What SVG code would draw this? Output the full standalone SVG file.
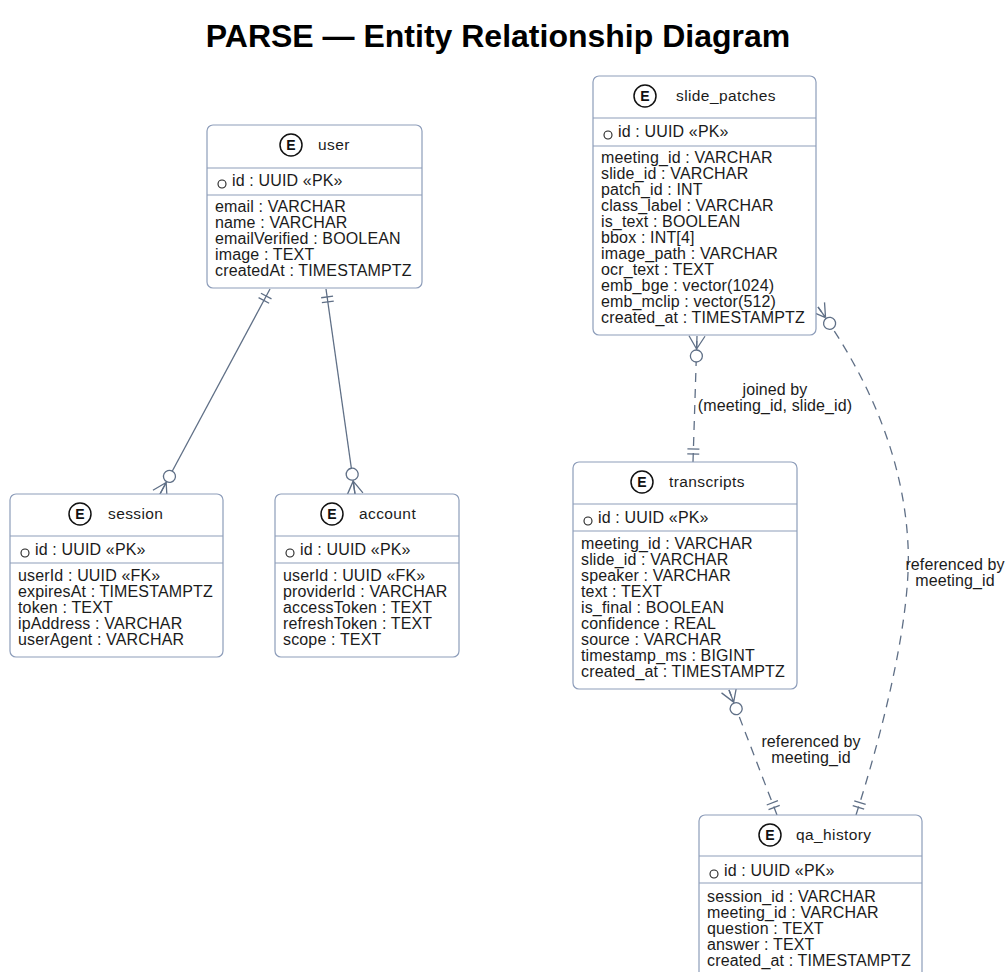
<svg xmlns="http://www.w3.org/2000/svg" width="1007" height="972" viewBox="0 0 1007 972">
  <style>
    text { font-family: "Liberation Sans", Arial, Helvetica, sans-serif; fill: #1b1b1b; }
    .title { font-size: 32px; font-weight: bold; text-anchor: middle; fill: #000; }
    .box { fill: #fff; stroke: #8d9dba; stroke-width: 1.2; }
    .sep { stroke: #8d9dba; stroke-width: 1.1; }
    .badge { fill: #fff; stroke: #111; stroke-width: 1.5; }
    .badgeL { font-size: 14px; font-weight: bold; text-anchor: middle; fill: #111; }
    .name { font-size: 15.5px; letter-spacing: 0.4px; }
    .f { font-size: 16px; letter-spacing: 0.15px; }
    .key { fill: #fff; stroke: #222; stroke-width: 1.1; }
    .rel { fill: none; stroke: #5f6f86; stroke-width: 1.3; }
    .dash { stroke-dasharray: 9 7; }
    .lbl { font-size: 16px; letter-spacing: 0.1px; text-anchor: middle; }
    .mk { fill: none; stroke: #5f6f86; stroke-width: 1.3; stroke-dasharray: none; }
    .mkc { fill: #fff; stroke: #5f6f86; stroke-width: 1.3; stroke-dasharray: none; }
  </style>
  <defs>
    <!-- zero-or-many: circle + crow's foot, tips on the entity border -->
    <marker id="many" markerUnits="userSpaceOnUse" markerWidth="40" markerHeight="30" refX="0" refY="0" orient="auto" style="overflow:visible">
      <path class="mk" d="M-13,0 L0,-8 M-13,0 L0,8 M-13,0 L0,0"/>
      <circle class="mkc" cx="-20" cy="0" r="6"/>
    </marker>
    <!-- exactly-one: double bar -->
    <marker id="one" markerUnits="userSpaceOnUse" markerWidth="30" markerHeight="30" refX="0" refY="0" orient="auto-start-reverse" style="overflow:visible">
      <path class="mk" d="M-8,-6 L-8,6 M-13,-6 L-13,6"/>
    </marker>
  </defs>

  <rect x="0" y="0" width="1007" height="972" fill="#fff"/>

  <text class="title" x="498" y="47">PARSE — Entity Relationship Diagram</text>

  <!-- relationships -->
  <g id="connectors">
    <path class="rel" d="M270,289 L160,494" marker-start="url(#one)" marker-end="url(#many)"/>
    <path class="rel" d="M326,289 L355,494" marker-start="url(#one)" marker-end="url(#many)"/>
    <path class="rel dash" d="M693,462 L697,336" marker-start="url(#one)" marker-end="url(#many)"/>
    <path class="rel dash" d="M777,815 L729,690" marker-start="url(#one)" marker-end="url(#many)"/>
    <path class="rel dash" d="M856,815 C880,740 912,620 908,545 C904,460 870,380 818,307" marker-start="url(#one)" marker-end="url(#many)"/>
    <text class="lbl" x="775" y="395">joined by</text>
    <text class="lbl" x="775" y="411">(meeting_id, slide_id)</text>
    <text class="lbl" x="811" y="747">referenced by</text>
    <text class="lbl" x="811" y="763">meeting_id</text>
    <text class="lbl" x="955" y="570">referenced by</text>
    <text class="lbl" x="955" y="586">meeting_id</text>
  </g>

  <!-- entities -->
  <g id="user" transform="translate(207,125)">
    <rect class="box" x="0" y="0" width="215" height="163" rx="6"/>
    <line class="sep" x1="0" y1="43" x2="215" y2="43"/>
    <line class="sep" x1="0" y1="70" x2="215" y2="70"/>
    <circle class="badge" cx="84" cy="20" r="11"/>
    <text class="badgeL" x="84" y="25">E</text>
    <text class="name" x="111" y="25">user</text>
    <circle class="key" cx="15" cy="59" r="4"/>
    <text class="f" x="25" y="61">id : UUID «PK»</text>
    <text class="f" x="8" y="87">
      <tspan x="8" dy="0">email : VARCHAR</tspan>
      <tspan x="8" dy="16">name : VARCHAR</tspan>
      <tspan x="8" dy="16">emailVerified : BOOLEAN</tspan>
      <tspan x="8" dy="16">image : TEXT</tspan>
      <tspan x="8" dy="16">createdAt : TIMESTAMPTZ</tspan>
    </text>
  </g>

  <g id="session" transform="translate(10,494)">
    <rect class="box" x="0" y="0" width="213" height="163" rx="6"/>
    <line class="sep" x1="0" y1="42" x2="213" y2="42"/>
    <line class="sep" x1="0" y1="69" x2="213" y2="69"/>
    <circle class="badge" cx="70" cy="20" r="11"/>
    <text class="badgeL" x="70" y="25">E</text>
    <text class="name" x="98" y="25">session</text>
    <circle class="key" cx="15" cy="59" r="4"/>
    <text class="f" x="25" y="61">id : UUID «PK»</text>
    <text class="f" x="8" y="87">
      <tspan x="8" dy="0">userId : UUID «FK»</tspan>
      <tspan x="8" dy="16">expiresAt : TIMESTAMPTZ</tspan>
      <tspan x="8" dy="16">token : TEXT</tspan>
      <tspan x="8" dy="16">ipAddress : VARCHAR</tspan>
      <tspan x="8" dy="16">userAgent : VARCHAR</tspan>
    </text>
  </g>

  <g id="account" transform="translate(275,494)">
    <rect class="box" x="0" y="0" width="184" height="163" rx="6"/>
    <line class="sep" x1="0" y1="42" x2="184" y2="42"/>
    <line class="sep" x1="0" y1="69" x2="184" y2="69"/>
    <circle class="badge" cx="57" cy="20" r="11"/>
    <text class="badgeL" x="57" y="25">E</text>
    <text class="name" x="84" y="25">account</text>
    <circle class="key" cx="15" cy="59" r="4"/>
    <text class="f" x="25" y="61">id : UUID «PK»</text>
    <text class="f" x="8" y="87">
      <tspan x="8" dy="0">userId : UUID «FK»</tspan>
      <tspan x="8" dy="16">providerId : VARCHAR</tspan>
      <tspan x="8" dy="16">accessToken : TEXT</tspan>
      <tspan x="8" dy="16">refreshToken : TEXT</tspan>
      <tspan x="8" dy="16">scope : TEXT</tspan>
    </text>
  </g>

  <g id="slide_patches" transform="translate(593,76)">
    <rect class="box" x="0" y="0" width="223" height="259" rx="6"/>
    <line class="sep" x1="0" y1="42" x2="223" y2="42"/>
    <line class="sep" x1="0" y1="70" x2="223" y2="70"/>
    <circle class="badge" cx="52" cy="20" r="11"/>
    <text class="badgeL" x="52" y="25">E</text>
    <text class="name" x="83" y="25">slide_patches</text>
    <circle class="key" cx="15" cy="59" r="4"/>
    <text class="f" x="25" y="61">id : UUID «PK»</text>
    <text class="f" x="8" y="87">
      <tspan x="8" dy="0">meeting_id : VARCHAR</tspan>
      <tspan x="8" dy="16">slide_id : VARCHAR</tspan>
      <tspan x="8" dy="16">patch_id : INT</tspan>
      <tspan x="8" dy="16">class_label : VARCHAR</tspan>
      <tspan x="8" dy="16">is_text : BOOLEAN</tspan>
      <tspan x="8" dy="16">bbox : INT[4]</tspan>
      <tspan x="8" dy="16">image_path : VARCHAR</tspan>
      <tspan x="8" dy="16">ocr_text : TEXT</tspan>
      <tspan x="8" dy="16">emb_bge : vector(1024)</tspan>
      <tspan x="8" dy="16">emb_mclip : vector(512)</tspan>
      <tspan x="8" dy="16">created_at : TIMESTAMPTZ</tspan>
    </text>
  </g>

  <g id="transcripts" transform="translate(573,462)">
    <rect class="box" x="0" y="0" width="224" height="227" rx="6"/>
    <line class="sep" x1="0" y1="42" x2="224" y2="42"/>
    <line class="sep" x1="0" y1="69" x2="224" y2="69"/>
    <circle class="badge" cx="69" cy="20" r="11"/>
    <text class="badgeL" x="69" y="25">E</text>
    <text class="name" x="96" y="25">transcripts</text>
    <circle class="key" cx="15" cy="59" r="4"/>
    <text class="f" x="25" y="61">id : UUID «PK»</text>
    <text class="f" x="8" y="87">
      <tspan x="8" dy="0">meeting_id : VARCHAR</tspan>
      <tspan x="8" dy="16">slide_id : VARCHAR</tspan>
      <tspan x="8" dy="16">speaker : VARCHAR</tspan>
      <tspan x="8" dy="16">text : TEXT</tspan>
      <tspan x="8" dy="16">is_final : BOOLEAN</tspan>
      <tspan x="8" dy="16">confidence : REAL</tspan>
      <tspan x="8" dy="16">source : VARCHAR</tspan>
      <tspan x="8" dy="16">timestamp_ms : BIGINT</tspan>
      <tspan x="8" dy="16">created_at : TIMESTAMPTZ</tspan>
    </text>
  </g>

  <g id="qa_history" transform="translate(699,815)">
    <rect class="box" x="0" y="0" width="223" height="163" rx="6"/>
    <line class="sep" x1="0" y1="41" x2="223" y2="41"/>
    <line class="sep" x1="0" y1="68" x2="223" y2="68"/>
    <circle class="badge" cx="71" cy="20" r="11"/>
    <text class="badgeL" x="71" y="25">E</text>
    <text class="name" x="97" y="25">qa_history</text>
    <circle class="key" cx="15" cy="59" r="4"/>
    <text class="f" x="25" y="61">id : UUID «PK»</text>
    <text class="f" x="8" y="87">
      <tspan x="8" dy="0">session_id : VARCHAR</tspan>
      <tspan x="8" dy="16">meeting_id : VARCHAR</tspan>
      <tspan x="8" dy="16">question : TEXT</tspan>
      <tspan x="8" dy="16">answer : TEXT</tspan>
      <tspan x="8" dy="16">created_at : TIMESTAMPTZ</tspan>
    </text>
  </g>
</svg>
